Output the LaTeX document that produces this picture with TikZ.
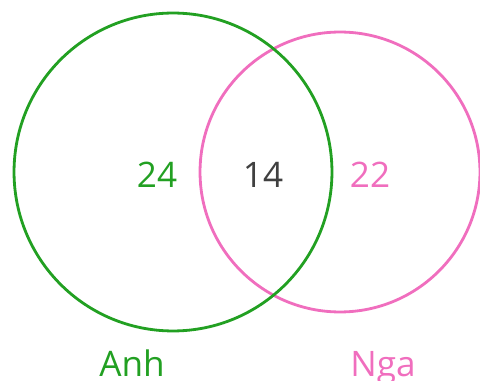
\documentclass[tikz,border=0pt]{standalone}
\usepackage{fontspec}
\setmainfont{Open Sans}
\definecolor{anhgreen}{RGB}{34,160,34}
\definecolor{ngapink}{RGB}{240,110,190}
\definecolor{midgray}{RGB}{64,64,64}
\tikzset{
	set/.style={draw, circle, line width=1.6pt, inner sep=0pt, outer sep=0pt},
	num/.style={font=\fontsize{20}{24}\selectfont},
}
\begin{document}
\begin{tikzpicture}[x=0.02cm, y=-0.02cm]
	\useasboundingbox (0,0) rectangle (480,381);
	\node[set, ngapink, minimum size=5.6cm] (nga) at (340,172) {};
	\node[set, anhgreen, minimum size=6.36cm] (anh) at (173,172) {};
	\node[num, anhgreen] (onlyanh) at (157,175) {24};
	\node[num, midgray] (both) at (263,175) {14};
	\node[num, ngapink] (onlynga) at (370,175) {22};
	\node[num, anhgreen, anchor=base] (anhlabel) at (132,377) {Anh};
	\node[num, ngapink, anchor=base] (ngalabel) at (383,377) {Nga};
\end{tikzpicture}
\end{document}
